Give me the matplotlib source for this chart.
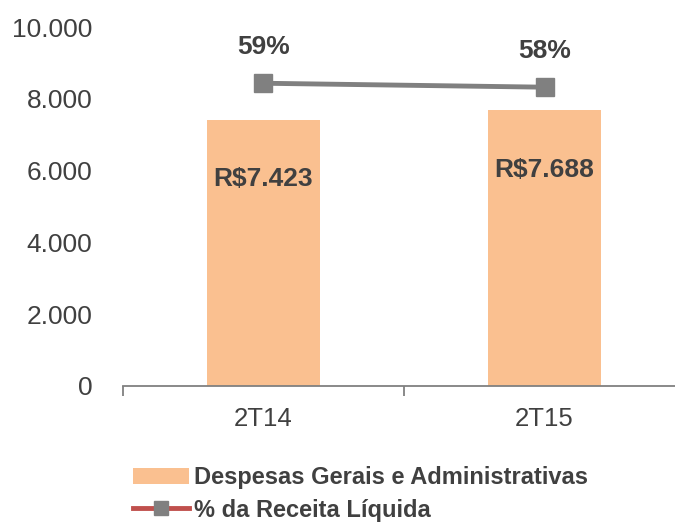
import matplotlib.pyplot as plt
from matplotlib.lines import Line2D
from matplotlib.patches import Patch

categories = ['2T14', '2T15']
despesas = [7423, 7688]
pct_receita = [59, 58]
bar_labels = ['R$7.423', 'R$7.688']
pct_labels = ['59%', '58%']
yticks = [0, 2000, 4000, 6000, 8000, 10000]
ytick_labels = ['0', '2.000', '4.000', '6.000', '8.000', '10.000']

plt.rcParams['font.family'] = ['Liberation Sans', 'DejaVu Sans']
txt = '#404040'

fig = plt.figure(figsize=(6.75, 5.23), dpi=100)
ax = fig.add_axes([0.182, 0.262, 0.833, 0.686])
x = list(range(len(categories)))
ax.bar(x, despesas, width=0.4, color='#FAC090', zorder=2)
ax.set_xlim(-0.5, 1.5)
ax.set_ylim(0, 10000)
ax.set_yticks(yticks)
ax.set_yticklabels(ytick_labels, fontsize=19, color=txt)
ax.set_xticks([-0.5, 0.5, 1.5], minor=False)
ax.set_xticklabels(['', '', ''])
ax.set_xticks(x, minor=True)
ax.set_xticklabels(categories, minor=True, fontsize=18.5, color=txt)
ax.tick_params(axis='x', which='major', length=7, width=1.3, color='#808080', direction='out')
ax.tick_params(axis='x', which='minor', length=0, pad=15)
ax.tick_params(axis='y', length=0, pad=22)
for s in ['top', 'right', 'left']:
    ax.spines[s].set_visible(False)
ax.spines['bottom'].set_color('#808080')
ax.spines['bottom'].set_linewidth(1.3)

for xi, v, lab in zip(x, despesas, bar_labels):
    ax.annotate(lab, (xi, v), xytext=(0, -43), textcoords='offset points',
                ha='center', va='center', fontsize=19, fontweight='bold', color=txt)

ax2 = ax.twinx()
ax2.set_ylim(-17.7, 73.2)
ax2.axis('off')
ax2.plot(x, pct_receita, color='#808080', lw=3.5, marker='s', markersize=13, zorder=3)
for xi, v, lab in zip(x, pct_receita, pct_labels):
    ax2.annotate(lab, (xi, v), xytext=(0, 26), textcoords='offset points',
                 ha='center', va='center', fontsize=19, fontweight='bold', color=txt)

handles = [Patch(facecolor='#FAC090', edgecolor='none'),
           Line2D([0], [0], color='#C0504D', lw=3.5, marker='s', markersize=10,
                  markerfacecolor='#808080', markeredgecolor='#808080')]
fig.legend(handles, ['Despesas Gerais e Administrativas', '% da Receita Líquida'],
           loc='lower left', bbox_to_anchor=(0.165, -0.038), frameon=False,
           prop={'size': 17, 'weight': 'bold'}, labelcolor=txt,
           handlelength=2.4, handletextpad=0.2, labelspacing=0.4, handleheight=0.7)

fig.savefig('out.png', dpi=100)
